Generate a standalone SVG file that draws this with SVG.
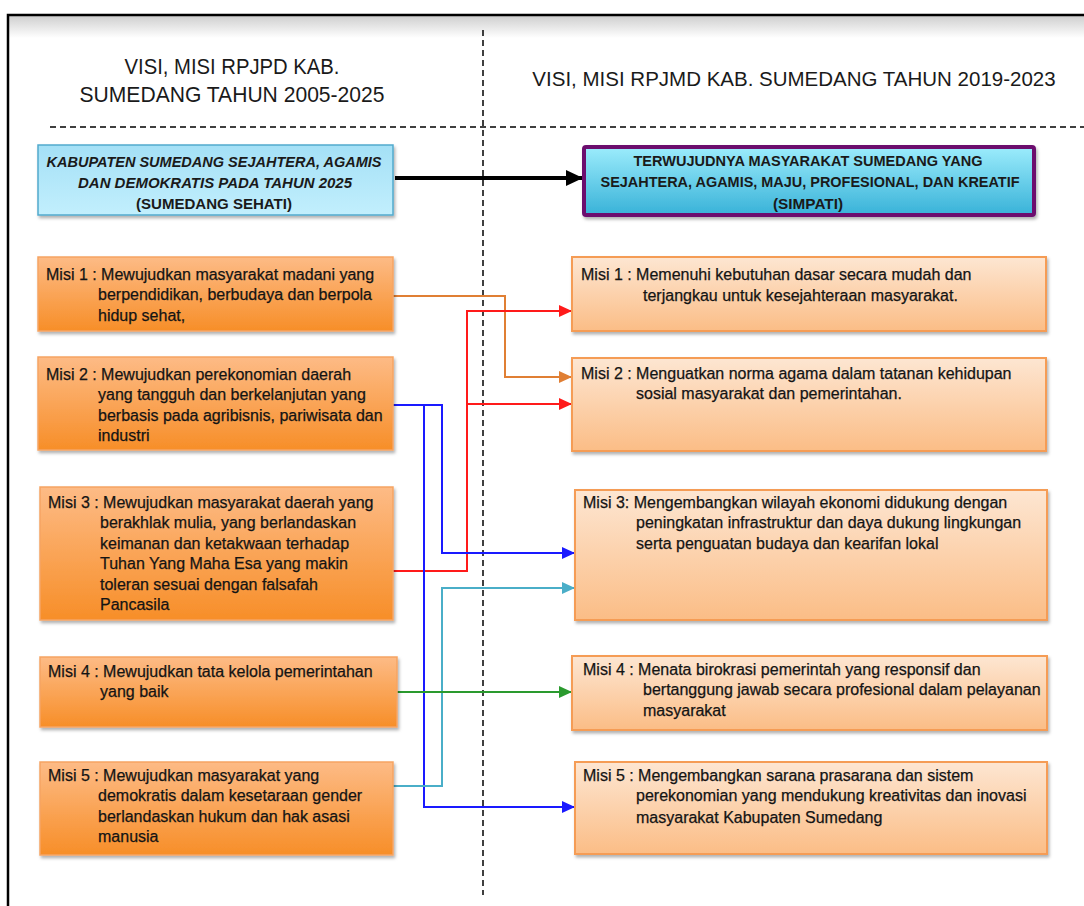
<svg xmlns="http://www.w3.org/2000/svg" width="1084" height="906" viewBox="0 0 1084 906">
<style>
.h{font-family:"Liberation Sans",Arial,sans-serif;font-size:22px;fill:#1a1a1a}
.t{font-family:"Liberation Sans",Arial,sans-serif;font-size:16px;fill:#141414;stroke:#141414;stroke-width:0.25}
.v{font-family:"Liberation Sans",Arial,sans-serif;font-size:15px;font-weight:bold;fill:#1a1a1a}
.lb{fill:url(#gl);stroke:#f6a463;stroke-width:1.5}
.rb{fill:url(#gr);stroke:#f59c55;stroke-width:2}
.dash{stroke:#000;stroke-width:1.5;stroke-dasharray:6 4;fill:none}
.c{fill:none;stroke-width:2}
</style>
<defs>
<linearGradient id="gl" x1="0" y1="0" x2="0" y2="1"><stop offset="0" stop-color="#fdbb86"/><stop offset="1" stop-color="#f78e28"/></linearGradient>
<linearGradient id="gr" x1="0" y1="0" x2="0" y2="1"><stop offset="0" stop-color="#fde6d2"/><stop offset="1" stop-color="#fbbd86"/></linearGradient>
<linearGradient id="gv1" x1="0" y1="0" x2="0" y2="1"><stop offset="0" stop-color="#a4e0f6"/><stop offset="1" stop-color="#c2effd"/></linearGradient>
<linearGradient id="gv2" x1="0" y1="0" x2="0" y2="1"><stop offset="0" stop-color="#9cecfc"/><stop offset="1" stop-color="#38b2d8"/></linearGradient>
<linearGradient id="gf" x1="0" y1="0" x2="0" y2="1"><stop offset="0" stop-color="#cfcfcf"/><stop offset="1" stop-color="#ffffff"/></linearGradient>
<filter id="sh" x="-5%" y="-10%" width="110%" height="130%"><feDropShadow dx="1.5" dy="2.5" stdDeviation="1.5" flood-color="#000" flood-opacity="0.3"/></filter>
<marker id="ak" markerUnits="userSpaceOnUse" markerWidth="18" markerHeight="16" refX="17" refY="8" orient="auto"><path d="M0,0 L17,8 L0,16 Z" fill="#000"/></marker>
<marker id="ao" markerUnits="userSpaceOnUse" markerWidth="14" markerHeight="12" refX="13" refY="6" orient="auto"><path d="M0,0 L13,6 L0,12 Z" fill="#e07f34"/></marker>
<marker id="ar" markerUnits="userSpaceOnUse" markerWidth="14" markerHeight="12" refX="13" refY="6" orient="auto"><path d="M0,0 L13,6 L0,12 Z" fill="#ff1a1a"/></marker>
<marker id="ab" markerUnits="userSpaceOnUse" markerWidth="14" markerHeight="12" refX="13" refY="6" orient="auto"><path d="M0,0 L13,6 L0,12 Z" fill="#1a1aff"/></marker>
<marker id="at" markerUnits="userSpaceOnUse" markerWidth="14" markerHeight="12" refX="13" refY="6" orient="auto"><path d="M0,0 L13,6 L0,12 Z" fill="#4aaec8"/></marker>
<marker id="ag" markerUnits="userSpaceOnUse" markerWidth="14" markerHeight="12" refX="13" refY="6" orient="auto"><path d="M0,0 L13,6 L0,12 Z" fill="#2a9a2e"/></marker>
</defs>
<rect width="1084" height="906" fill="#fff"/>
<g id="frame">
<rect x="9" y="16" width="1075" height="22" fill="url(#gf)"/>
<path d="M8,906 V15 H1084" fill="none" stroke="#000" stroke-width="2.5"/>
<path class="dash" d="M483,30 V895"/>
<path class="dash" d="M50,127 H1084"/>
</g>
<g id="headers">
<text class="h" x="232" y="74" text-anchor="middle" textLength="215" lengthAdjust="spacingAndGlyphs">VISI, MISI RPJPD KAB.</text>
<text class="h" x="232" y="102" text-anchor="middle" textLength="305" lengthAdjust="spacingAndGlyphs">SUMEDANG TAHUN 2005-2025</text>
<text class="h" x="794" y="86" text-anchor="middle" style="font-size:20.5px">VISI, MISI RPJMD KAB. SUMEDANG TAHUN 2019-2023</text>
</g>
<g id="connectors">
<path d="M395,178 H583" stroke="#000" stroke-width="4" fill="none" marker-end="url(#ak)"/>
<path class="c" d="M393,296 H505 V377 H572" stroke="#e07f34" marker-end="url(#ao)"/>
<path class="c" d="M393,571 H467 V311 H572" stroke="#ff1a1a" marker-end="url(#ar)"/>
<path class="c" d="M467,404 H572" stroke="#ff1a1a" marker-end="url(#ar)"/>
<path class="c" d="M393,405 H442 V553 H575" stroke="#1a1aff" marker-end="url(#ab)"/>
<path class="c" d="M424,405 V807 H575" stroke="#1a1aff" marker-end="url(#ab)"/>
<path class="c" d="M393,786 H442 V588 H575" stroke="#4aaec8" marker-end="url(#at)"/>
<path class="c" d="M397,692 H572" stroke="#2a9a2e" marker-end="url(#ag)"/>
</g>
<g id="visi-rpjpd">
<rect x="38" y="145" width="355" height="70" fill="url(#gv1)" stroke="#52aacd" stroke-width="1.5" filter="url(#sh)"/>
<text class="v" x="214" y="167" text-anchor="middle" font-style="italic" textLength="335" lengthAdjust="spacingAndGlyphs">KABUPATEN SUMEDANG SEJAHTERA, AGAMIS</text>
<text class="v" x="215" y="188" text-anchor="middle" font-style="italic" textLength="274" lengthAdjust="spacingAndGlyphs">DAN DEMOKRATIS PADA TAHUN 2025</text>
<text class="v" x="214" y="209" text-anchor="middle" textLength="156" lengthAdjust="spacingAndGlyphs">(SUMEDANG SEHATI)</text>
</g>
<g id="visi-rpjmd">
<rect x="584" y="147" width="450" height="68" fill="url(#gv2)" stroke="#6c0a6e" stroke-width="4" rx="2" filter="url(#sh)"/>
<text class="v" x="808" y="166" text-anchor="middle" textLength="349" lengthAdjust="spacingAndGlyphs">TERWUJUDNYA MASYARAKAT SUMEDANG YANG</text>
<text class="v" x="810" y="187" text-anchor="middle" textLength="419" lengthAdjust="spacingAndGlyphs">SEJAHTERA, AGAMIS, MAJU, PROFESIONAL, DAN KREATIF</text>
<text class="v" x="808" y="209" text-anchor="middle" textLength="70" lengthAdjust="spacingAndGlyphs">(SIMPATI)</text>
</g>
<g id="l-misi1">
<rect class="lb" x="38" y="257" width="355" height="74" filter="url(#sh)"/>
<text class="t" x="46" y="280">Misi 1 : Mewujudkan masyarakat madani yang</text>
<text class="t" x="98" y="300">berpendidikan, berbudaya dan berpola</text>
<text class="t" x="98" y="321">hidup sehat,</text>
</g>
<g id="l-misi2">
<rect class="lb" x="38" y="357" width="355" height="93" filter="url(#sh)"/>
<text class="t" x="46" y="380">Misi 2 : Mewujudkan perekonomian daerah</text>
<text class="t" x="98" y="400">yang tangguh dan berkelanjutan yang</text>
<text class="t" x="98" y="421">berbasis pada agribisnis, pariwisata dan</text>
<text class="t" x="98" y="441">industri</text>
</g>
<g id="l-misi3">
<rect class="lb" x="40" y="487" width="353" height="133" filter="url(#sh)"/>
<text class="t" x="48" y="508">Misi 3 : Mewujudkan masyarakat daerah yang</text>
<text class="t" x="100" y="528">berakhlak mulia, yang berlandaskan</text>
<text class="t" x="100" y="549">keimanan dan ketakwaan terhadap</text>
<text class="t" x="100" y="569">Tuhan Yang Maha Esa yang makin</text>
<text class="t" x="100" y="590">toleran sesuai dengan falsafah</text>
<text class="t" x="100" y="610">Pancasila</text>
</g>
<g id="l-misi4">
<rect class="lb" x="40" y="657" width="357" height="70" filter="url(#sh)"/>
<text class="t" x="48" y="677">Misi 4 : Mewujudkan tata kelola pemerintahan</text>
<text class="t" x="100" y="697">yang baik</text>
</g>
<g id="l-misi5">
<rect class="lb" x="40" y="762" width="353" height="93" filter="url(#sh)"/>
<text class="t" x="48" y="781">Misi 5 : Mewujudkan masyarakat yang</text>
<text class="t" x="98" y="801">demokratis dalam kesetaraan gender</text>
<text class="t" x="98" y="822">berlandaskan hukum dan hak asasi</text>
<text class="t" x="98" y="842">manusia</text>
</g>
<g id="r-misi1">
<rect class="rb" x="572" y="257" width="474" height="74" filter="url(#sh)"/>
<text class="t" x="581" y="280">Misi 1 : Memenuhi kebutuhan dasar secara mudah dan</text>
<text class="t" x="643" y="301">terjangkau untuk kesejahteraan masyarakat.</text>
</g>
<g id="r-misi2">
<rect class="rb" x="572" y="358" width="474" height="93" filter="url(#sh)"/>
<text class="t" x="581" y="379">Misi 2 : Menguatkan norma agama dalam tatanan kehidupan</text>
<text class="t" x="636" y="399">sosial masyarakat dan pemerintahan.</text>
</g>
<g id="r-misi3">
<rect class="rb" x="575" y="490" width="472" height="130" filter="url(#sh)"/>
<text class="t" x="583" y="508">Misi 3: Mengembangkan wilayah ekonomi didukung dengan</text>
<text class="t" x="636" y="528">peningkatan infrastruktur dan daya dukung lingkungan</text>
<text class="t" x="636" y="549">serta penguatan budaya dan kearifan lokal</text>
</g>
<g id="r-misi4">
<rect class="rb" x="572" y="656" width="475" height="74" filter="url(#sh)"/>
<text class="t" x="583" y="675">Misi 4 : Menata birokrasi pemerintah yang responsif dan</text>
<text class="t" x="643" y="695">bertanggung jawab secara profesional dalam pelayanan</text>
<text class="t" x="643" y="716">masyarakat</text>
</g>
<g id="r-misi5">
<rect class="rb" x="575" y="762" width="472" height="92" filter="url(#sh)"/>
<text class="t" x="583" y="781">Misi 5 : Mengembangkan sarana prasarana dan sistem</text>
<text class="t" x="636" y="801">perekonomian yang mendukung kreativitas dan inovasi</text>
<text class="t" x="636" y="823">masyarakat Kabupaten Sumedang</text>
</g>
</svg>
